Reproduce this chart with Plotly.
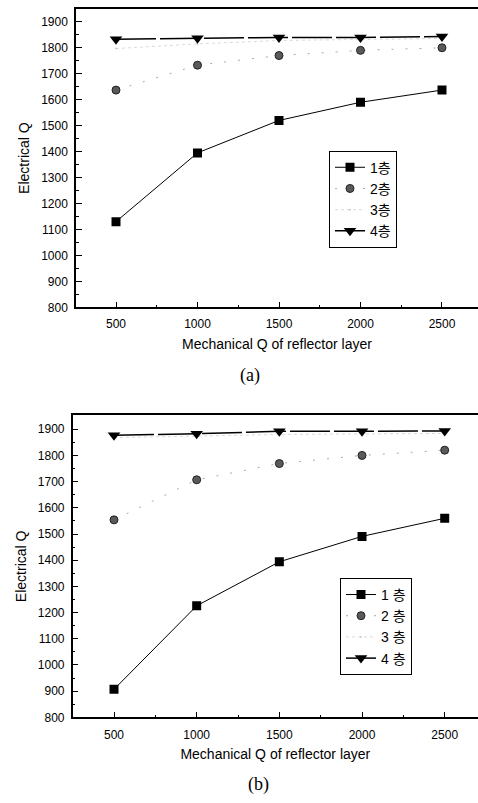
import plotly.graph_objects as go

x_vals = [500, 1000, 1500, 2000, 2500]

# (a)
a_layer1 = [1130, 1395, 1520, 1590, 1637]
a_layer2 = [1637, 1733, 1770, 1790, 1800]
a_layer3 = [1797, 1815, 1828, 1832, 1836]
a_layer4 = [1833, 1837, 1840, 1840, 1843]

# (b)
b_layer1 = [907, 1226, 1394, 1491, 1560]
b_layer2 = [1554, 1707, 1769, 1800, 1820]
b_layer3 = [1868, 1875, 1880, 1882, 1884]
b_layer4 = [1877, 1883, 1892, 1892, 1893]

names_a = ["1층", "2층", "3층", "4층"]
names_b = ["1 층", "2 층", "3 층", "4 층"]

x_ticks = [500, 1000, 1500, 2000, 2500]
y_ticks = list(range(800, 2000, 100))

styles = [
    dict(line=dict(color="black", width=1), marker=dict(symbol="square", size=9, color="black")),
    dict(line=dict(color="#a8a8a8", width=1, dash="2px,12px"),
         marker=dict(symbol="circle", size=8, color="#5a5a5a", line=dict(color="#222222", width=1))),
    dict(line=dict(color="#dadada", width=1, dash="dot"),
         marker=dict(symbol="circle", size=2, color="#cccccc")),
    dict(line=dict(color="black", width=1.5, dash="40px,4px"),
         marker=dict(symbol="triangle-down", size=11, color="black")),
]

fig = go.Figure()

for ys, nm, st in zip([a_layer1, a_layer2, a_layer3, a_layer4], names_a, styles):
    fig.add_trace(go.Scatter(x=x_vals, y=ys, name=nm, mode="lines+markers",
                             xaxis="x", yaxis="y", legend="legend", **st))
for ys, nm, st in zip([b_layer1, b_layer2, b_layer3, b_layer4], names_b, styles):
    fig.add_trace(go.Scatter(x=x_vals, y=ys, name=nm, mode="lines+markers",
                             xaxis="x2", yaxis="y2", legend="legend2", **st))

tickfont = dict(family="Liberation Sans, Arial", size=12, color="black")
titlefont = dict(family="Liberation Sans, Arial", size=14, color="black")

def xaxis(domain, rng, anchor):
    return dict(domain=domain, range=rng, anchor=anchor, tickvals=x_ticks,
                ticks="inside", ticklen=6, tickwidth=1.2, tickcolor="black",
                minor=dict(ticks="inside", ticklen=3, dtick=250, tickcolor="black", tickwidth=1),
                showline=True, linecolor="black", linewidth=1.5, mirror=True,
                showgrid=False, zeroline=False, tickfont=tickfont, ticklabelstandoff=5,
                title=dict(text="Mechanical Q of reflector layer", font=titlefont, standoff=9))

def yaxis(domain, rng, anchor):
    return dict(domain=domain, range=rng, anchor=anchor, tickvals=y_ticks,
                ticks="inside", ticklen=6, tickwidth=1.2, tickcolor="black",
                minor=dict(ticks="inside", ticklen=3, dtick=50, tickcolor="black", tickwidth=1),
                showline=True, linecolor="black", linewidth=1.5, mirror=False,
                showgrid=False, zeroline=False, tickfont=tickfont, ticklabelstandoff=4,
                title=dict(text="Electrical Q", font=titlefont, standoff=8))

W, H = 478, 803
legfont = dict(family="Liberation Sans, Noto Sans CJK KR", size=14, color="black")
fig.update_layout(
    width=W, height=H,
    margin=dict(l=0, r=0, t=0, b=0),
    paper_bgcolor="white", plot_bgcolor="white",
    xaxis=xaxis([76 / W, 1.0], [254.6, 2720.9], "y"),
    yaxis=yaxis([1 - 310 / H, 1 - 9 / H], [800, 1949.7], "x"),
    xaxis2=xaxis([72.7 / W, 1.0], [250.2, 2701.4], "y2"),
    yaxis2=yaxis([1 - 723.7 / H, 1 - 419 / H], [800, 1953], "x2"),
    legend=dict(x=329 / W, y=1 - 152 / H, xanchor="left", yanchor="top",
                bordercolor="black", borderwidth=1, bgcolor="white",
                font=legfont, tracegroupgap=0, itemwidth=30),
    legend2=dict(x=340 / W, y=1 - 583 / H, xanchor="left", yanchor="top",
                 bordercolor="black", borderwidth=1, bgcolor="white",
                 font=legfont, tracegroupgap=0, itemwidth=30),
    showlegend=True,
    annotations=[
        dict(text="(a)", x=250 / W, y=1 - 379 / H, xref="paper", yref="paper",
             xanchor="center", yanchor="middle",
             showarrow=False, font=dict(family="Liberation Serif", size=18, color="black")),
        dict(text="(b)", x=258 / W, y=1 - 791 / H, xref="paper", yref="paper",
             xanchor="center", yanchor="middle",
             showarrow=False, font=dict(family="Liberation Serif", size=18, color="black")),
    ],
)

fig.write_html("out.html")
